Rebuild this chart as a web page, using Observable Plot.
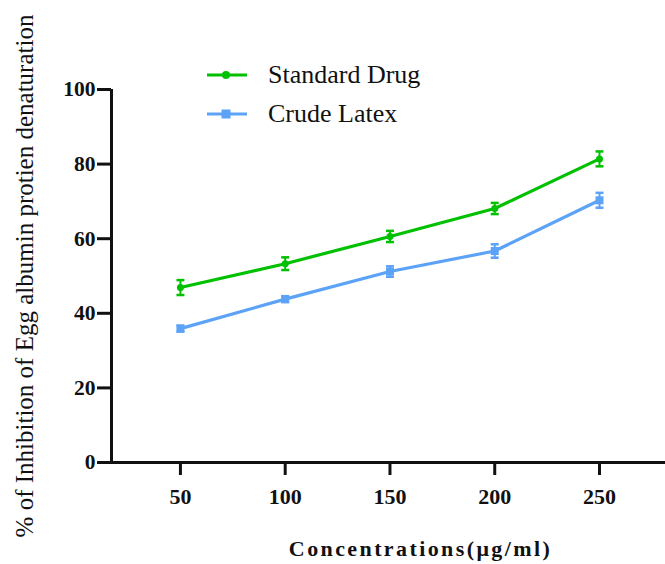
<!DOCTYPE html>
<html>
<head>
<meta charset="utf-8">
<script src="https://cdn.jsdelivr.net/npm/d3@7"></script>
<script src="https://cdn.jsdelivr.net/npm/@observablehq/plot@0.6"></script>
<style>
  html, body { margin: 0; padding: 0; background: #fff; }
  #wrap { position: relative; width: 665px; height: 564px; }
  #legend { position: absolute; left: 206px; top: 55px; font-family: "Liberation Serif", serif; font-size: 26px; color: #111; }
  .item { display: flex; align-items: center; height: 39px; }
  .item svg { margin-right: 20px; }
  svg [aria-label="y-axis tick"] path, svg [aria-label="x-axis tick"] path { stroke-width: 3px; }
  .xtitle text { letter-spacing: 2.4px; }
</style>
</head>
<body>
<div id="wrap"><div id="legend"></div></div>
<script>
const concentrations = [50, 100, 150, 200, 250];
const standardDrug = [46.9, 53.3, 60.6, 68.1, 81.4];
const standardErr = [2.0, 1.7, 1.5, 1.5, 2.0];
const crudeLatex = [35.9, 43.8, 51.2, 56.7, 70.3];
const crudeErr = [0.8, 0.8, 1.4, 1.8, 2.0];
const seriesNames = ["Standard Drug", "Crude Latex"];
const seriesColors = ["#00c000", "#5ca3f7"];
const yTicks = [0, 20, 40, 60, 80, 100];
const xTitle = "Concentrations(μg/ml)";
const yTitle = "% of Inhibition of Egg albumin protien denaturation";

const rows = [];
concentrations.forEach((c, i) => {
  rows.push({series: seriesNames[0], x: c, y: standardDrug[i], e: standardErr[i]});
  rows.push({series: seriesNames[1], x: c, y: crudeLatex[i], e: crudeErr[i]});
});
const colorOf = s => seriesColors[seriesNames.indexOf(s)];

const capSymbol = {
  draw(ctx, size) {
    const w = Math.sqrt(size) / 2;
    ctx.moveTo(-w, 0);
    ctx.lineTo(w, 0);
  }
};

const serif = "Liberation Serif, serif";

const chart = Plot.plot({
  width: 665,
  height: 564,
  marginLeft: 111,
  marginRight: 0,
  marginTop: 89,
  marginBottom: 102,
  style: {fontFamily: serif, background: "#fff", color: "#111"},
  x: {domain: [17.1, 281.5]},
  y: {domain: [0, 100]},
  marks: [
    Plot.axisY({ticks: yTicks, tickSize: 14, tickPadding: 2, fontSize: 21.5, fontWeight: "bold", label: null, stroke: "#111"}),
    Plot.axisX({ticks: concentrations, tickSize: 13, tickPadding: 13, fontSize: 22, fontWeight: "bold", label: null, stroke: "#111"}),
    Plot.ruleY([0], {stroke: "#111", strokeWidth: 3}),
    Plot.ruleX([17.1], {y1: 0, y2: 100, stroke: "#111", strokeWidth: 3}),
    Plot.line(rows, {x: "x", y: "y", z: "series", stroke: d => colorOf(d.series), strokeWidth: 3.2}),
    Plot.ruleX(rows, {x: "x", y1: d => d.y - d.e, y2: d => d.y + d.e, stroke: d => colorOf(d.series), strokeWidth: 2}),
    Plot.dot(rows, {x: "x", y: d => d.y + d.e, symbol: capSymbol, r: 4.5, stroke: d => colorOf(d.series), strokeWidth: 2.5}),
    Plot.dot(rows, {x: "x", y: d => d.y - d.e, symbol: capSymbol, r: 4.5, stroke: d => colorOf(d.series), strokeWidth: 2.5}),
    Plot.dot(rows.filter(d => d.series === seriesNames[0]), {x: "x", y: "y", r: 3.5, fill: seriesColors[0]}),
    Plot.dot(rows.filter(d => d.series === seriesNames[1]), {x: "x", y: "y", symbol: "square", r: 4.5, fill: seriesColors[1]}),
    Plot.text([xTitle], {frameAnchor: "bottom", dy: 93, dx: 32, fontSize: 22, fontWeight: "bold", fill: "#111", className: "xtitle"}),
    Plot.text([yTitle], {frameAnchor: "left", textAnchor: "middle", rotate: -90, dx: -87, fontSize: 25, fill: "#111"})
  ]
});
document.getElementById("wrap").prepend(chart);

const legend = document.getElementById("legend");
seriesNames.forEach((name, i) => {
  const item = document.createElement("div");
  item.className = "item";
  const marker = i === 0
    ? `<circle cx="20" cy="8" r="4" fill="${seriesColors[i]}"/>`
    : `<rect x="15.5" y="3.5" width="9" height="9" fill="${seriesColors[i]}"/>`;
  item.innerHTML = `<svg width="42" height="16"><line x1="1" x2="41" y1="8" y2="8" stroke="${seriesColors[i]}" stroke-width="3.2"/>${marker}</svg><span>${name}</span>`;
  legend.appendChild(item);
});
</script>
</body>
</html>
